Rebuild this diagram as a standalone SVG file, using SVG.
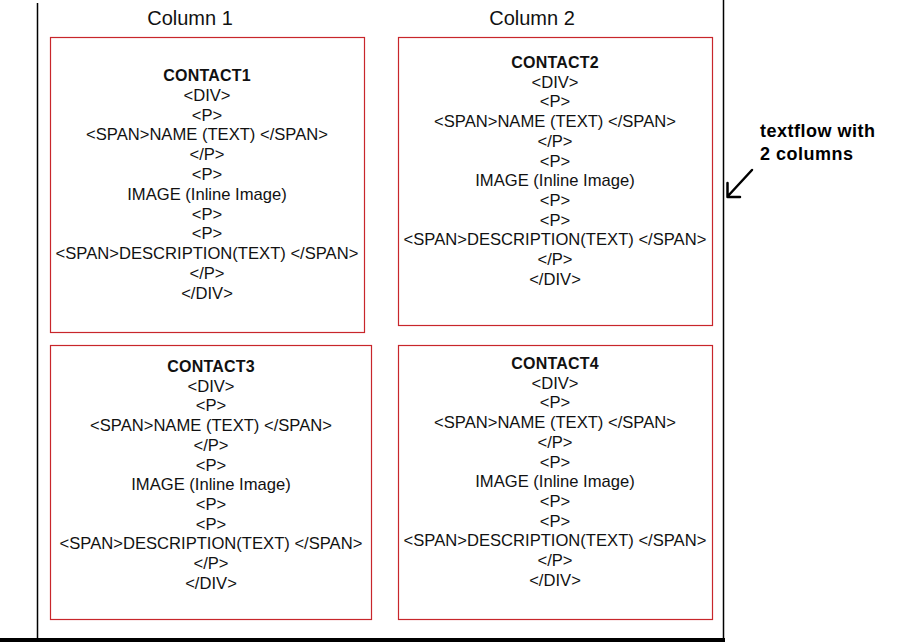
<svg xmlns="http://www.w3.org/2000/svg" width="900" height="642" viewBox="0 0 900 642">
<style>
.frame{stroke:#000;stroke-width:1.5;fill:none}
.box{fill:#fff;stroke:#c8262b;stroke-width:1.2}
.t{font-family:"Liberation Sans",Arial,sans-serif;font-size:16.6px;fill:#111;text-anchor:middle}
.h{font-weight:bold;font-size:16px;letter-spacing:0.2px}
.col{font-family:"Liberation Sans",Arial,sans-serif;font-size:20px;fill:#111;text-anchor:middle}
.note{font-family:"Liberation Sans",Arial,sans-serif;font-size:18px;font-weight:bold;fill:#000;letter-spacing:0.5px}
</style>
<rect width="900" height="642" fill="#fff"/>
<g id="frame">
<line class="frame" x1="37.5" y1="3" x2="37.5" y2="638"/>
<line class="frame" x1="723.5" y1="0" x2="723.5" y2="638"/>
<rect x="0" y="638" width="725" height="4" fill="#000"/>
</g>
<g id="headers">
<text class="col" x="190" y="25">Column 1</text>
<text class="col" x="532" y="25">Column 2</text>
</g>
<g id="contact1">
<rect class="box" x="50.5" y="37.5" width="314" height="295"/>
<text class="t" x="207" y="81"><tspan class="h">CONTACT1</tspan><tspan x="207" dy="19.8">&lt;DIV&gt;</tspan><tspan x="207" dy="19.8">&lt;P&gt;</tspan><tspan x="207" dy="19.8">&lt;SPAN&gt;NAME (TEXT) &lt;/SPAN&gt;</tspan><tspan x="207" dy="19.8">&lt;/P&gt;</tspan><tspan x="207" dy="19.8">&lt;P&gt;</tspan><tspan x="207" dy="19.8">IMAGE (Inline Image)</tspan><tspan x="207" dy="19.8">&lt;P&gt;</tspan><tspan x="207" dy="19.8">&lt;P&gt;</tspan><tspan x="207" dy="19.8">&lt;SPAN&gt;DESCRIPTION(TEXT) &lt;/SPAN&gt;</tspan><tspan x="207" dy="19.8">&lt;/P&gt;</tspan><tspan x="207" dy="19.8">&lt;/DIV&gt;</tspan></text>
</g>
<g id="contact2">
<rect class="box" x="398.5" y="37.5" width="314" height="288"/>
<text class="t" x="555" y="68"><tspan class="h">CONTACT2</tspan><tspan x="555" dy="19.7">&lt;DIV&gt;</tspan><tspan x="555" dy="19.7">&lt;P&gt;</tspan><tspan x="555" dy="19.7">&lt;SPAN&gt;NAME (TEXT) &lt;/SPAN&gt;</tspan><tspan x="555" dy="19.7">&lt;/P&gt;</tspan><tspan x="555" dy="19.7">&lt;P&gt;</tspan><tspan x="555" dy="19.7">IMAGE (Inline Image)</tspan><tspan x="555" dy="19.7">&lt;P&gt;</tspan><tspan x="555" dy="19.7">&lt;P&gt;</tspan><tspan x="555" dy="19.7">&lt;SPAN&gt;DESCRIPTION(TEXT) &lt;/SPAN&gt;</tspan><tspan x="555" dy="19.7">&lt;/P&gt;</tspan><tspan x="555" dy="19.7">&lt;/DIV&gt;</tspan></text>
</g>
<g id="contact3">
<rect class="box" x="50.5" y="345.5" width="321" height="274"/>
<text class="t" x="211" y="372"><tspan class="h">CONTACT3</tspan><tspan x="211" dy="19.7">&lt;DIV&gt;</tspan><tspan x="211" dy="19.7">&lt;P&gt;</tspan><tspan x="211" dy="19.7">&lt;SPAN&gt;NAME (TEXT) &lt;/SPAN&gt;</tspan><tspan x="211" dy="19.7">&lt;/P&gt;</tspan><tspan x="211" dy="19.7">&lt;P&gt;</tspan><tspan x="211" dy="19.7">IMAGE (Inline Image)</tspan><tspan x="211" dy="19.7">&lt;P&gt;</tspan><tspan x="211" dy="19.7">&lt;P&gt;</tspan><tspan x="211" dy="19.7">&lt;SPAN&gt;DESCRIPTION(TEXT) &lt;/SPAN&gt;</tspan><tspan x="211" dy="19.7">&lt;/P&gt;</tspan><tspan x="211" dy="19.7">&lt;/DIV&gt;</tspan></text>
</g>
<g id="contact4">
<rect class="box" x="398.5" y="345.5" width="314" height="274"/>
<text class="t" x="555" y="369"><tspan class="h">CONTACT4</tspan><tspan x="555" dy="19.7">&lt;DIV&gt;</tspan><tspan x="555" dy="19.7">&lt;P&gt;</tspan><tspan x="555" dy="19.7">&lt;SPAN&gt;NAME (TEXT) &lt;/SPAN&gt;</tspan><tspan x="555" dy="19.7">&lt;/P&gt;</tspan><tspan x="555" dy="19.7">&lt;P&gt;</tspan><tspan x="555" dy="19.7">IMAGE (Inline Image)</tspan><tspan x="555" dy="19.7">&lt;P&gt;</tspan><tspan x="555" dy="19.7">&lt;P&gt;</tspan><tspan x="555" dy="19.7">&lt;SPAN&gt;DESCRIPTION(TEXT) &lt;/SPAN&gt;</tspan><tspan x="555" dy="19.7">&lt;/P&gt;</tspan><tspan x="555" dy="19.7">&lt;/DIV&gt;</tspan></text>
</g>
<g id="note">
<text class="note" x="760" y="137">textflow with</text>
<text class="note" x="760" y="160">2 columns</text>
</g>
<g id="connectors">
<path d="M752 170 L728 196 M727.5 183 L727.5 197 L740 197" fill="none" stroke="#000" stroke-width="2.5" stroke-linecap="round" stroke-linejoin="round"/>
</g>
</svg>
